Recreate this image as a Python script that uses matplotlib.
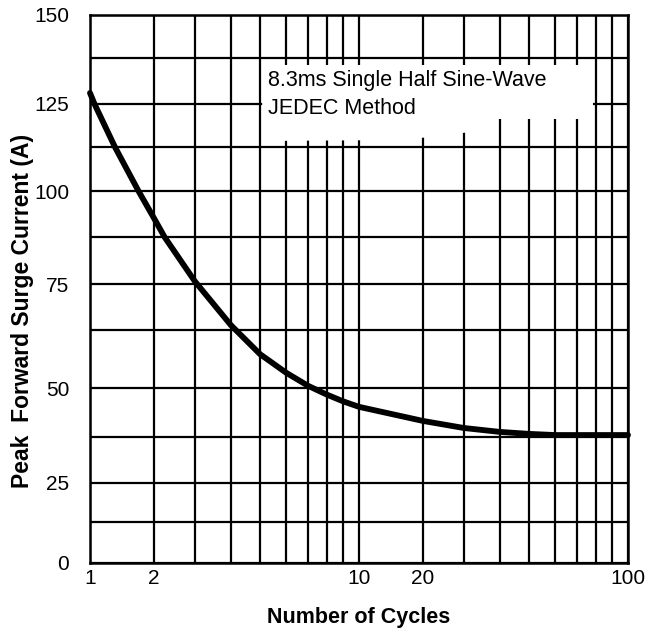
import numpy as np
import matplotlib
matplotlib.use("Agg")
from matplotlib import pyplot as plt
from matplotlib.patches import Polygon

# values
cycles = [1, 1.05, 1.31, 1.69, 2, 2.22, 3, 4, 5, 6, 7, 8, 9, 10,
          20, 30, 40, 50, 60, 70, 80, 100]
surge_current = [128, 125, 112.5, 100, 92.6, 87.5, 75.7, 63.8, 57.3, 53.3,
                 50.5, 48.3, 46.6, 45.2, 41.6, 39.8, 38.8, 38.3, 38.0, 38.0,
                 38.0, 38.0]

x_grid = [1, 2, 3, 4, 5, 6, 7, 8, 9, 10, 20, 30, 40, 50, 60, 70, 80, 90, 100]
x_labels = {1: "1", 2: "2", 10: "10", 20: "20", 100: "100"}
y_grid = [0, 12.5, 25, 37.5, 50, 62.5, 75, 87.5, 100, 112.5, 125, 137.5, 150]
y_labels = {0: "0", 25: "25", 50: "50", 75: "75", 100: "100", 125: "125", 150: "150"}

note = "8.3ms Single Half Sine-Wave\nJEDEC Method"

# the printed log paper is not a true log scale: spacing of 1..10 inside a decade
DECADE_LOG = np.log10(np.arange(1, 11))
DECADE_POS = np.array([0, 0.238, 0.390, 0.524, 0.632, 0.729, 0.810, 0.881, 0.941, 1.0])
# and the horizontal rules are hand spaced
Y_POS = np.array([0, 0.0748, 0.146, 0.2299, 0.3193, 0.4252, 0.5091, 0.5949,
                  0.6788, 0.7591, 0.8376, 0.9215, 1.0])


def x_forward(x):
    lx = np.log10(np.clip(np.asarray(x, dtype=float), 1e-3, None))
    d = np.floor(lx + 1e-9)
    return d + np.interp(lx - d, DECADE_LOG, DECADE_POS)


def x_inverse(p):
    p = np.asarray(p, dtype=float)
    d = np.floor(p)
    return 10 ** (d + np.interp(p - d, DECADE_POS, DECADE_LOG))


def y_forward(v):
    return np.interp(v, y_grid, Y_POS)


def y_inverse(p):
    return np.interp(p, Y_POS, y_grid)


plt.rcParams["font.family"] = ["Liberation Sans", "DejaVu Sans"]

fig = plt.figure(figsize=(6.53, 6.32), dpi=100)
ax = fig.add_axes([90 / 653, 1 - 563 / 632, 538 / 653, 548 / 632])

ax.set_xscale("function", functions=(x_forward, x_inverse))
ax.set_yscale("function", functions=(y_forward, y_inverse))
ax.set_xlim(1, 100)
ax.set_ylim(0, 150)

ax.set_xticks(x_grid, [x_labels.get(v, "") for v in x_grid])
ax.set_yticks(y_grid, [y_labels.get(v, "") for v in y_grid])
ax.minorticks_off()
ax.tick_params(axis="both", length=0, labelsize=15, colors="black")
ax.tick_params(axis="x", pad=4)
ax.tick_params(axis="y", pad=15)

ax.set_axisbelow(True)
ax.grid(True, color="black", linewidth=1.6)
for s in ax.spines.values():
    s.set_linewidth(1.8)
    s.set_color("black")

# white patch behind the note, as on the datasheet
box = Polygon([(0.320, 0.9088), (0.9349, 0.9088), (0.9349, 0.8102),
               (0.7435, 0.8102), (0.7063, 0.7865), (0.6506, 0.7792),
               (0.5762, 0.7719), (0.320, 0.7701)],
              closed=True, transform=ax.transAxes, facecolor="white",
              edgecolor="none", zorder=1)
ax.add_patch(box)
ax.text(0.331, 0.899, note, transform=ax.transAxes, ha="left", va="top",
        fontsize=15.5, linespacing=1.4, zorder=4)

ax.plot(cycles, surge_current, color="black", linewidth=4.2,
        solid_capstyle="round", solid_joinstyle="round", clip_on=False, zorder=3)

ax.set_xlabel("Number of Cycles", fontsize=15.5, fontweight="bold")
ax.set_ylabel("Peak  Forward Surge Current (A)", fontsize=16.5, fontweight="bold")
ax.xaxis.label.set_va("center")
ax.xaxis.set_label_coords(0.5, -0.1)
ax.yaxis.label.set_va("center")
ax.yaxis.set_label_coords(-0.126, 0.46)

fig.savefig("out.png", dpi=100)
